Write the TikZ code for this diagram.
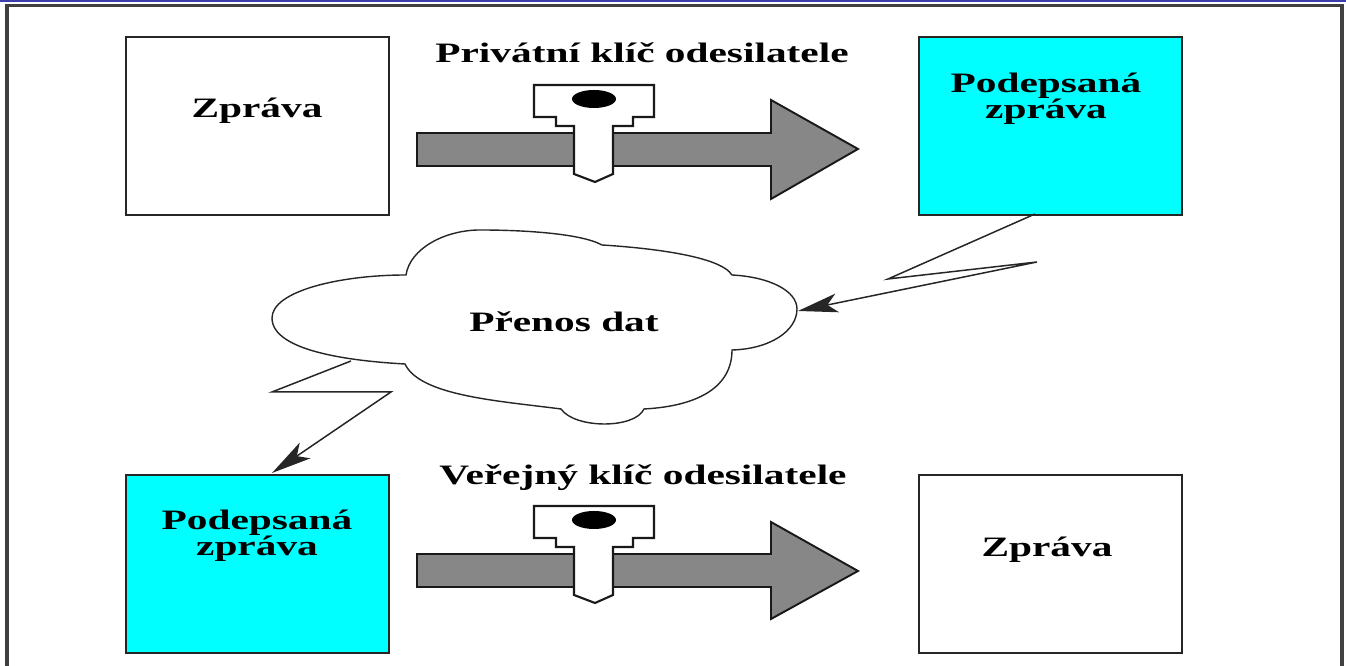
\documentclass[tikz,border=0pt]{standalone}
\usepackage{fontspec}
\setmainfont{Liberation Serif}
\newfontfamily\labelfont[FakeStretch=1.47]{Liberation Serif}
\usetikzlibrary{arrows.meta}
\definecolor{signcyan}{RGB}{0,255,255}
\definecolor{edgeblue}{RGB}{60,60,170}

\tikzset{
  page/.style={line width=2.2pt, draw=black!75},
  sheet/.style={draw=black!85, line width=1pt, minimum width=5.26cm, minimum height=3.56cm, anchor=north west, inner sep=0pt},
  signed/.style={sheet, fill=signcyan},
  caption/.style={font=\labelfont\bfseries\fontsize{16}{15}\selectfont, align=center, inner sep=0pt},
  bolt/.style={draw=black!85, line width=0.85pt, -{Stealth[length=0.8cm, width=0.38cm, inset=0.2cm]}},
  shaft/.style={draw=black!90, line width=1.1pt, fill=black!47},
  keyblade/.style={draw=black!90, line width=1.2pt, fill=white},
}

\begin{document}
\begin{tikzpicture}
\useasboundingbox (0,0) rectangle (26.92,13.32);

% window edge
\fill[edgeblue] (0,13.32) rectangle (26.92,13.27);
\draw[page] (0.14,0) -- (0.14,13.21) -- (26.84,13.21) -- (26.84,0);

% sheets
\node[sheet] (msgtop) at (2.5,12.6) {};
\node[signed] (signedtop) at (18.36,12.6) {};
\node[signed] (signedbot) at (2.5,3.84) {};
\node[sheet] (msgbot) at (18.36,3.84) {};
\node[caption] (msgtoptext) at (5.14,11.1) {Zpráva};
\node[caption] (signedtoptext) at (20.92,11.34) {Podepsaná\\zpráva};
\node[caption] (signedbottext) at (5.14,2.6) {Podepsaná\\zpráva};
\node[caption] (msgbottext) at (20.94,2.32) {Zpráva};

% upper arrow with key
\node[caption] (keytop) at (12.84,12.26) {Privátní klíč odesilatele};
\draw[shaft] (8.34,10.66) -- (15.42,10.66) -- (15.42,11.32) -- (17.16,10.34) -- (15.42,9.34) -- (15.42,10.0) -- (8.34,10.0) -- cycle;
\draw[keyblade] (10.68,11.62) -- (13.08,11.62) -- (13.08,10.98) -- (12.66,10.98) -- (12.66,10.8) -- (12.26,10.8) -- (12.26,9.84) -- (11.9,9.68) -- (11.48,9.84) -- (11.48,10.8) -- (11.12,10.8) -- (11.12,10.98) -- (10.68,10.98) -- cycle;
\fill[black] (11.88,11.34) ellipse (0.44 and 0.18);

% cloud
\draw[draw=black!85, line width=0.8pt, fill=white] (8.12,7.82)
  .. controls (8.2,8.35) and (8.9,8.72) .. (9.6,8.72)
  .. controls (10.4,8.72) and (11.6,8.66) .. (12.04,8.42)
  .. controls (13.0,8.36) and (14.4,8.2) .. (14.64,7.82)
  .. controls (15.4,7.78) and (15.94,7.5) .. (15.94,7.14)
  .. controls (15.94,6.7) and (15.4,6.34) .. (14.64,6.32)
  .. controls (14.64,5.6) and (14.0,5.2) .. (12.88,5.14)
  .. controls (12.7,4.74) and (11.5,4.74) .. (11.22,5.14)
  .. controls (10.0,5.3) and (8.4,5.4) .. (8.1,6.04)
  .. controls (7.0,6.1) and (5.44,6.3) .. (5.44,6.96)
  .. controls (5.44,7.5) and (6.8,7.82) .. (8.12,7.82) -- cycle;
\node[caption] (transfer) at (11.28,6.88) {Přenos dat};

% bolts
\coordinate (boltout) at (20.7,9.04);
\coordinate (boltmid) at (17.76,7.74);
\coordinate (boltend) at (20.74,8.08);
\coordinate (boltin) at (15.96,7.1);
\draw[bolt] (boltout) -- (boltmid) -- (boltend) -- (boltin);
\coordinate (dropout) at (7.02,6.1);
\coordinate (dropmid) at (5.44,5.48);
\coordinate (dropend) at (7.82,5.48);
\coordinate (dropin) at (5.44,3.86);
\draw[bolt] (dropout) -- (dropmid) -- (dropend) -- (dropin);

% lower arrow with key
\node[caption] (keybot) at (12.86,3.76) {Veřejný klíč odesilatele};
\draw[shaft] (8.34,2.24) -- (15.42,2.24) -- (15.42,2.88) -- (17.16,1.9) -- (15.42,0.94) -- (15.42,1.58) -- (8.34,1.58) -- cycle;
\draw[keyblade] (10.68,3.2) -- (13.08,3.2) -- (13.08,2.56) -- (12.66,2.56) -- (12.66,2.38) -- (12.26,2.38) -- (12.26,1.42) -- (11.9,1.26) -- (11.48,1.42) -- (11.48,2.38) -- (11.12,2.38) -- (11.12,2.56) -- (10.68,2.56) -- cycle;
\fill[black] (11.88,2.92) ellipse (0.44 and 0.18);
\end{tikzpicture}
\end{document}
